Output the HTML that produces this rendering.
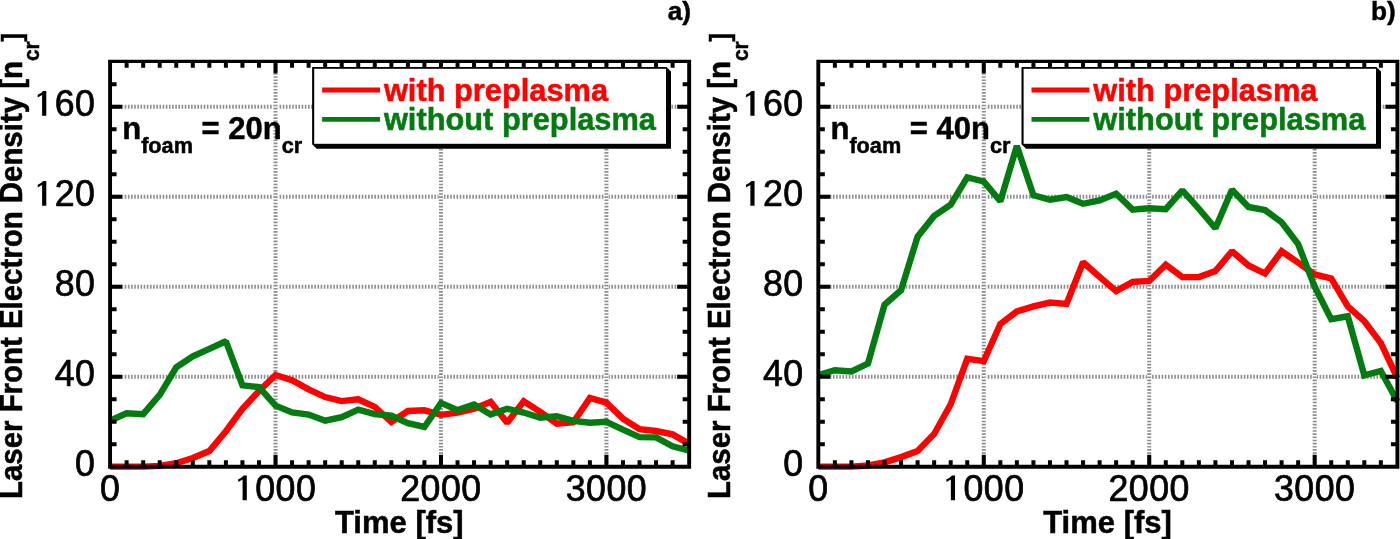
<!DOCTYPE html>
<html><head><meta charset="utf-8"><title>Laser front electron density</title>
<style>
html,body{margin:0;padding:0;background:#fff;}
body{width:1400px;height:539px;overflow:hidden;}
svg{display:block;}
svg text{font-family:"Liberation Sans",sans-serif;}
svg text[font-weight=bold]{stroke-width:0.5px;}
svg text.k{stroke:#000;}
</style></head><body>
<svg width="1400" height="539" viewBox="0 0 1400 539" fill="#000">
<rect width="1400" height="539" fill="#fff"/>
<g opacity="0.999">
<clipPath id="ca"><rect x="107.48" y="59.80" width="584.28" height="410.00"/></clipPath>
<line x1="112.08" y1="376.80" x2="687.16" y2="376.80" stroke="#8e8e92" stroke-width="4" stroke-dasharray="1.6 1.56"/>
<line x1="112.08" y1="286.80" x2="687.16" y2="286.80" stroke="#8e8e92" stroke-width="4" stroke-dasharray="1.6 1.56"/>
<line x1="112.08" y1="196.80" x2="687.16" y2="196.80" stroke="#8e8e92" stroke-width="4" stroke-dasharray="1.6 1.56"/>
<line x1="112.08" y1="106.80" x2="687.16" y2="106.80" stroke="#8e8e92" stroke-width="4" stroke-dasharray="1.6 1.56"/>
<rect x="273.23" y="63.10" width="4.6" height="401.70" fill="#fff"/>
<line x1="275.53" y1="63.60" x2="275.53" y2="464.80" stroke="#8e8e92" stroke-width="4" stroke-dasharray="1.6 1.56"/>
<rect x="438.68" y="63.10" width="4.6" height="401.70" fill="#fff"/>
<line x1="440.98" y1="63.60" x2="440.98" y2="464.80" stroke="#8e8e92" stroke-width="4" stroke-dasharray="1.6 1.56"/>
<rect x="604.13" y="63.10" width="4.6" height="401.70" fill="#fff"/>
<line x1="606.43" y1="63.60" x2="606.43" y2="464.80" stroke="#8e8e92" stroke-width="4" stroke-dasharray="1.6 1.56"/>
<g clip-path="url(#ca)" fill="none" stroke-width="6.4" stroke-linejoin="miter" stroke-miterlimit="1.42">
<polyline points="110.08,466.80 126.62,466.80 143.17,466.80 159.72,465.90 176.26,463.20 192.81,458.03 209.35,451.05 225.90,431.25 242.44,408.75 258.99,390.98 275.53,375.00 292.07,380.18 308.62,389.40 325.17,397.05 341.71,401.10 358.25,399.30 374.80,406.95 391.35,422.03 407.89,411.00 424.44,410.32 440.98,414.82 457.53,412.57 474.07,408.75 490.62,401.78 507.16,422.70 523.71,401.32 540.25,411.90 556.80,423.60 573.34,422.25 589.89,397.95 606.43,402.68 622.98,418.65 639.52,429.23 656.07,431.03 672.61,434.40 689.16,443.85" stroke="#ff0000"/>
<polyline points="110.08,420.68 126.62,413.25 143.17,414.15 159.72,394.80 176.26,367.35 192.81,356.32 209.35,348.90 225.90,341.25 242.44,385.35 258.99,387.15 275.53,405.60 292.07,412.35 308.62,414.60 325.17,420.68 341.71,417.07 358.25,409.65 374.80,414.15 391.35,415.73 407.89,423.15 424.44,426.98 440.98,402.90 457.53,410.10 474.07,404.48 490.62,414.38 507.16,408.75 523.71,412.57 540.25,417.75 556.80,416.18 573.34,420.90 589.89,422.70 606.43,421.80 622.98,429.68 639.52,437.10 656.07,437.32 672.61,446.32 689.16,450.60" stroke="#047b10"/>
</g>
<path d="M126.62 466.80V460.30M126.62 61.40V67.80M143.17 466.80V460.30M143.17 61.40V67.80M159.72 466.80V460.30M159.72 61.40V67.80M176.26 466.80V460.30M176.26 61.40V67.80M192.81 466.80V460.30M192.81 61.40V67.80M209.35 466.80V460.30M209.35 61.40V67.80M225.90 466.80V460.30M225.90 61.40V67.80M242.44 466.80V460.30M242.44 61.40V67.80M258.99 466.80V460.30M258.99 61.40V67.80M275.53 466.80V454.80M275.53 61.40V73.30M292.07 466.80V460.30M292.07 61.40V67.80M308.62 466.80V460.30M308.62 61.40V67.80M325.17 466.80V460.30M325.17 61.40V67.80M341.71 466.80V460.30M341.71 61.40V67.80M358.25 466.80V460.30M358.25 61.40V67.80M374.80 466.80V460.30M374.80 61.40V67.80M391.35 466.80V460.30M391.35 61.40V67.80M407.89 466.80V460.30M407.89 61.40V67.80M424.44 466.80V460.30M424.44 61.40V67.80M440.98 466.80V454.80M440.98 61.40V73.30M457.53 466.80V460.30M457.53 61.40V67.80M474.07 466.80V460.30M474.07 61.40V67.80M490.62 466.80V460.30M490.62 61.40V67.80M507.16 466.80V460.30M507.16 61.40V67.80M523.71 466.80V460.30M523.71 61.40V67.80M540.25 466.80V460.30M540.25 61.40V67.80M556.80 466.80V460.30M556.80 61.40V67.80M573.34 466.80V460.30M573.34 61.40V67.80M589.89 466.80V460.30M589.89 61.40V67.80M606.43 466.80V454.80M606.43 61.40V73.30M622.98 466.80V460.30M622.98 61.40V67.80M639.52 466.80V460.30M639.52 61.40V67.80M656.07 466.80V460.30M656.07 61.40V67.80M672.61 466.80V460.30M672.61 61.40V67.80M110.08 444.30H116.58M689.16 444.30H682.66M110.08 421.80H116.58M689.16 421.80H682.66M110.08 399.30H116.58M689.16 399.30H682.66M110.08 376.80H122.08M689.16 376.80H677.16M110.08 354.30H116.58M689.16 354.30H682.66M110.08 331.80H116.58M689.16 331.80H682.66M110.08 309.30H116.58M689.16 309.30H682.66M110.08 286.80H122.08M689.16 286.80H677.16M110.08 264.30H116.58M689.16 264.30H682.66M110.08 241.80H116.58M689.16 241.80H682.66M110.08 219.30H116.58M689.16 219.30H682.66M110.08 196.80H122.08M689.16 196.80H677.16M110.08 174.30H116.58M689.16 174.30H682.66M110.08 151.80H116.58M689.16 151.80H682.66M110.08 129.30H116.58M689.16 129.30H682.66M110.08 106.80H122.08M689.16 106.80H677.16M110.08 84.30H116.58M689.16 84.30H682.66" stroke="#000" stroke-width="4" fill="none"/>
<path d="M108.11 59.70H691.13V468.80H108.11Z M112.03 63.10H687.21V464.85H112.03Z" fill="#000" fill-rule="evenodd"/>
<text transform="translate(95.40 476.00) scale(0.990 1)" text-anchor="end" font-size="36.10" letter-spacing="0.50" stroke="#000" stroke-width="0.70">0</text>
<text transform="translate(95.40 386.00) scale(0.990 1)" text-anchor="end" font-size="36.10" letter-spacing="0.50" stroke="#000" stroke-width="0.70">40</text>
<text transform="translate(95.40 296.00) scale(0.990 1)" text-anchor="end" font-size="36.10" letter-spacing="0.50" stroke="#000" stroke-width="0.70">80</text>
<path d="M46.30 181.10 V205.80 H42.10 V185.00 L37.70 187.50 V184.70 Q41.30 183.60 43.20 181.10 Z"/><text transform="translate(95.40 206.00) scale(0.990 1)" text-anchor="end" font-size="36.10" letter-spacing="0.50" stroke="#000" stroke-width="0.70">20</text>
<path d="M46.30 91.10 V115.80 H42.10 V95.00 L37.70 97.50 V94.70 Q41.30 93.60 43.20 91.10 Z"/><text transform="translate(95.40 116.00) scale(0.990 1)" text-anchor="end" font-size="36.10" letter-spacing="0.50" stroke="#000" stroke-width="0.70">60</text>
<text transform="translate(120.26 500.50) scale(0.990 1)" text-anchor="end" font-size="36.10" letter-spacing="0.50" stroke="#000" stroke-width="0.70">0</text>
<path d="M246.80 475.60 V500.30 H242.60 V479.50 L238.20 482.00 V479.20 Q241.80 478.10 243.70 475.60 Z"/><text transform="translate(316.26 500.50) scale(0.990 1)" text-anchor="end" font-size="36.10" letter-spacing="0.50" stroke="#000" stroke-width="0.70">000</text>
<text transform="translate(481.71 500.50) scale(0.990 1)" text-anchor="end" font-size="36.10" letter-spacing="0.50" stroke="#000" stroke-width="0.70">2000</text>
<text transform="translate(647.16 500.50) scale(0.990 1)" text-anchor="end" font-size="36.10" letter-spacing="0.50" stroke="#000" stroke-width="0.70">3000</text>
<text class="k" x="399.30" y="532.8" text-anchor="middle" font-weight="bold" font-size="31.00">Time [fs]</text>
<text class="k" transform="translate(21.90 499) rotate(-90) scale(1 1.048)" font-weight="bold" font-size="29.42">Laser Front Electron Density [n<tspan font-size="20.8" dy="16.6">cr</tspan></text>
<text class="k" transform="translate(21.05 41.5) rotate(-90) scale(0.85 0.97)" font-weight="bold" font-size="29.42">]</text>
<text class="k" x="122.20" y="139.1" font-weight="bold" font-size="31.00">n<tspan font-size="21.7" dy="13.7">foam</tspan><tspan dy="-13.7"> = 20n</tspan><tspan font-size="21.7" dy="13.7">cr</tspan></text>
<path d="M312.10 67.00 H666.40 L671.00 71.60 V148.80 H316.70 L312.10 144.20 Z" fill="#000"/>
<rect x="314.20" y="68.80" width="351.80" height="75.00" fill="#fff"/>
<line x1="322.10" y1="90.0" x2="380.00" y2="90.0" stroke="#ff0000" stroke-width="4.9"/>
<line x1="322.10" y1="119.4" x2="380.00" y2="119.4" stroke="#047b10" stroke-width="4.9"/>
<text x="383.90" y="100.7" font-weight="bold" font-size="30.80" fill="#ff0000" stroke="#ff0000" stroke-width="0.5">with preplasma</text>
<text x="383.90" y="130.1" font-weight="bold" font-size="30.80" fill="#047b10" stroke="#047b10" stroke-width="0.5">without preplasma</text>
<clipPath id="cb"><rect x="815.73" y="59.80" width="584.28" height="410.00"/></clipPath>
<line x1="820.33" y1="376.80" x2="1395.41" y2="376.80" stroke="#8e8e92" stroke-width="4" stroke-dasharray="1.6 1.56"/>
<line x1="820.33" y1="286.80" x2="1395.41" y2="286.80" stroke="#8e8e92" stroke-width="4" stroke-dasharray="1.6 1.56"/>
<line x1="820.33" y1="196.80" x2="1395.41" y2="196.80" stroke="#8e8e92" stroke-width="4" stroke-dasharray="1.6 1.56"/>
<line x1="820.33" y1="106.80" x2="1395.41" y2="106.80" stroke="#8e8e92" stroke-width="4" stroke-dasharray="1.6 1.56"/>
<rect x="981.48" y="63.10" width="4.6" height="401.70" fill="#fff"/>
<line x1="983.78" y1="63.60" x2="983.78" y2="464.80" stroke="#8e8e92" stroke-width="4" stroke-dasharray="1.6 1.56"/>
<rect x="1146.93" y="63.10" width="4.6" height="401.70" fill="#fff"/>
<line x1="1149.23" y1="63.60" x2="1149.23" y2="464.80" stroke="#8e8e92" stroke-width="4" stroke-dasharray="1.6 1.56"/>
<rect x="1312.38" y="63.10" width="4.6" height="401.70" fill="#fff"/>
<line x1="1314.68" y1="63.60" x2="1314.68" y2="464.80" stroke="#8e8e92" stroke-width="4" stroke-dasharray="1.6 1.56"/>
<g clip-path="url(#cb)" fill="none" stroke-width="6.4" stroke-linejoin="miter" stroke-miterlimit="1.42">
<polyline points="818.33,466.80 834.88,466.80 851.42,466.80 867.97,465.45 884.51,462.30 901.06,457.12 917.60,451.05 934.15,433.95 950.69,404.25 967.24,358.80 983.78,361.05 1000.33,323.93 1016.87,311.33 1033.41,306.38 1049.96,302.55 1066.51,303.90 1083.05,262.27 1099.60,276.90 1116.14,291.08 1132.68,281.85 1149.23,280.95 1165.78,264.75 1182.32,277.12 1198.87,277.12 1215.41,271.05 1231.96,251.25 1248.50,265.43 1265.05,273.52 1281.59,251.25 1298.14,262.73 1314.68,274.43 1331.23,278.48 1347.77,306.38 1364.32,321.23 1380.86,343.05 1397.41,378.15" stroke="#ff0000"/>
<polyline points="818.33,375.00 834.88,370.28 851.42,371.40 867.97,363.53 884.51,304.80 901.06,290.18 917.60,236.63 934.15,215.93 950.69,204.68 967.24,177.45 983.78,181.50 1000.33,201.30 1016.87,145.95 1033.41,195.23 1049.96,199.73 1066.51,197.02 1083.05,203.77 1099.60,200.40 1116.14,193.65 1132.68,209.62 1149.23,208.27 1165.78,209.18 1182.32,190.27 1198.87,208.73 1215.41,228.30 1231.96,189.83 1248.50,206.93 1265.05,210.08 1281.59,222.22 1298.14,244.05 1314.68,286.80 1331.23,319.20 1347.77,316.27 1364.32,375.45 1380.86,370.95 1397.41,401.55" stroke="#047b10"/>
</g>
<path d="M834.88 466.80V460.30M834.88 61.40V67.80M851.42 466.80V460.30M851.42 61.40V67.80M867.97 466.80V460.30M867.97 61.40V67.80M884.51 466.80V460.30M884.51 61.40V67.80M901.06 466.80V460.30M901.06 61.40V67.80M917.60 466.80V460.30M917.60 61.40V67.80M934.15 466.80V460.30M934.15 61.40V67.80M950.69 466.80V460.30M950.69 61.40V67.80M967.24 466.80V460.30M967.24 61.40V67.80M983.78 466.80V454.80M983.78 61.40V73.30M1000.33 466.80V460.30M1000.33 61.40V67.80M1016.87 466.80V460.30M1016.87 61.40V67.80M1033.41 466.80V460.30M1033.41 61.40V67.80M1049.96 466.80V460.30M1049.96 61.40V67.80M1066.51 466.80V460.30M1066.51 61.40V67.80M1083.05 466.80V460.30M1083.05 61.40V67.80M1099.60 466.80V460.30M1099.60 61.40V67.80M1116.14 466.80V460.30M1116.14 61.40V67.80M1132.68 466.80V460.30M1132.68 61.40V67.80M1149.23 466.80V454.80M1149.23 61.40V73.30M1165.78 466.80V460.30M1165.78 61.40V67.80M1182.32 466.80V460.30M1182.32 61.40V67.80M1198.87 466.80V460.30M1198.87 61.40V67.80M1215.41 466.80V460.30M1215.41 61.40V67.80M1231.96 466.80V460.30M1231.96 61.40V67.80M1248.50 466.80V460.30M1248.50 61.40V67.80M1265.05 466.80V460.30M1265.05 61.40V67.80M1281.59 466.80V460.30M1281.59 61.40V67.80M1298.14 466.80V460.30M1298.14 61.40V67.80M1314.68 466.80V454.80M1314.68 61.40V73.30M1331.23 466.80V460.30M1331.23 61.40V67.80M1347.77 466.80V460.30M1347.77 61.40V67.80M1364.32 466.80V460.30M1364.32 61.40V67.80M1380.86 466.80V460.30M1380.86 61.40V67.80M818.33 444.30H824.83M1397.41 444.30H1390.91M818.33 421.80H824.83M1397.41 421.80H1390.91M818.33 399.30H824.83M1397.41 399.30H1390.91M818.33 376.80H830.33M1397.41 376.80H1385.41M818.33 354.30H824.83M1397.41 354.30H1390.91M818.33 331.80H824.83M1397.41 331.80H1390.91M818.33 309.30H824.83M1397.41 309.30H1390.91M818.33 286.80H830.33M1397.41 286.80H1385.41M818.33 264.30H824.83M1397.41 264.30H1390.91M818.33 241.80H824.83M1397.41 241.80H1390.91M818.33 219.30H824.83M1397.41 219.30H1390.91M818.33 196.80H830.33M1397.41 196.80H1385.41M818.33 174.30H824.83M1397.41 174.30H1390.91M818.33 151.80H824.83M1397.41 151.80H1390.91M818.33 129.30H824.83M1397.41 129.30H1390.91M818.33 106.80H830.33M1397.41 106.80H1385.41M818.33 84.30H824.83M1397.41 84.30H1390.91" stroke="#000" stroke-width="4" fill="none"/>
<path d="M816.36 59.70H1399.38V468.80H816.36Z M820.28 63.10H1395.46V464.85H820.28Z" fill="#000" fill-rule="evenodd"/>
<text transform="translate(803.65 476.00) scale(0.990 1)" text-anchor="end" font-size="36.10" letter-spacing="0.50" stroke="#000" stroke-width="0.70">0</text>
<text transform="translate(803.65 386.00) scale(0.990 1)" text-anchor="end" font-size="36.10" letter-spacing="0.50" stroke="#000" stroke-width="0.70">40</text>
<text transform="translate(803.65 296.00) scale(0.990 1)" text-anchor="end" font-size="36.10" letter-spacing="0.50" stroke="#000" stroke-width="0.70">80</text>
<path d="M754.55 181.10 V205.80 H750.35 V185.00 L745.95 187.50 V184.70 Q749.55 183.60 751.45 181.10 Z"/><text transform="translate(803.65 206.00) scale(0.990 1)" text-anchor="end" font-size="36.10" letter-spacing="0.50" stroke="#000" stroke-width="0.70">20</text>
<path d="M754.55 91.10 V115.80 H750.35 V95.00 L745.95 97.50 V94.70 Q749.55 93.60 751.45 91.10 Z"/><text transform="translate(803.65 116.00) scale(0.990 1)" text-anchor="end" font-size="36.10" letter-spacing="0.50" stroke="#000" stroke-width="0.70">60</text>
<text transform="translate(828.51 500.50) scale(0.990 1)" text-anchor="end" font-size="36.10" letter-spacing="0.50" stroke="#000" stroke-width="0.70">0</text>
<path d="M955.05 475.60 V500.30 H950.85 V479.50 L946.45 482.00 V479.20 Q950.05 478.10 951.95 475.60 Z"/><text transform="translate(1024.51 500.50) scale(0.990 1)" text-anchor="end" font-size="36.10" letter-spacing="0.50" stroke="#000" stroke-width="0.70">000</text>
<text transform="translate(1189.96 500.50) scale(0.990 1)" text-anchor="end" font-size="36.10" letter-spacing="0.50" stroke="#000" stroke-width="0.70">2000</text>
<text transform="translate(1355.41 500.50) scale(0.990 1)" text-anchor="end" font-size="36.10" letter-spacing="0.50" stroke="#000" stroke-width="0.70">3000</text>
<text class="k" x="1107.55" y="532.8" text-anchor="middle" font-weight="bold" font-size="31.00">Time [fs]</text>
<text class="k" transform="translate(730.15 499) rotate(-90) scale(1 1.048)" font-weight="bold" font-size="29.42">Laser Front Electron Density [n<tspan font-size="20.8" dy="16.6">cr</tspan></text>
<text class="k" transform="translate(729.30 41.5) rotate(-90) scale(0.85 0.97)" font-weight="bold" font-size="29.42">]</text>
<text class="k" x="830.45" y="139.1" font-weight="bold" font-size="31.00">n<tspan font-size="21.7" dy="13.7">foam</tspan><tspan dy="-13.7"> = 40n</tspan><tspan font-size="21.7" dy="13.7">cr</tspan></text>
<path d="M1021.50 67.00 H1376.40 L1381.00 71.60 V148.80 H1026.10 L1021.50 144.20 Z" fill="#000"/>
<rect x="1023.60" y="68.80" width="352.40" height="75.00" fill="#fff"/>
<line x1="1031.50" y1="90.0" x2="1089.40" y2="90.0" stroke="#ff0000" stroke-width="4.9"/>
<line x1="1031.50" y1="119.4" x2="1089.40" y2="119.4" stroke="#047b10" stroke-width="4.9"/>
<text x="1093.30" y="100.7" font-weight="bold" font-size="30.80" fill="#ff0000" stroke="#ff0000" stroke-width="0.5">with preplasma</text>
<text x="1093.30" y="130.1" font-weight="bold" font-size="30.80" fill="#047b10" stroke="#047b10" stroke-width="0.5">without preplasma</text>
<text class="k" x="691" y="20.4" text-anchor="end" font-weight="bold" font-size="26.2">a)</text>
<text class="k" x="1395.7" y="20.2" text-anchor="end" font-weight="bold" font-size="26.2">b)</text>
</g>
</svg>
</body></html>
